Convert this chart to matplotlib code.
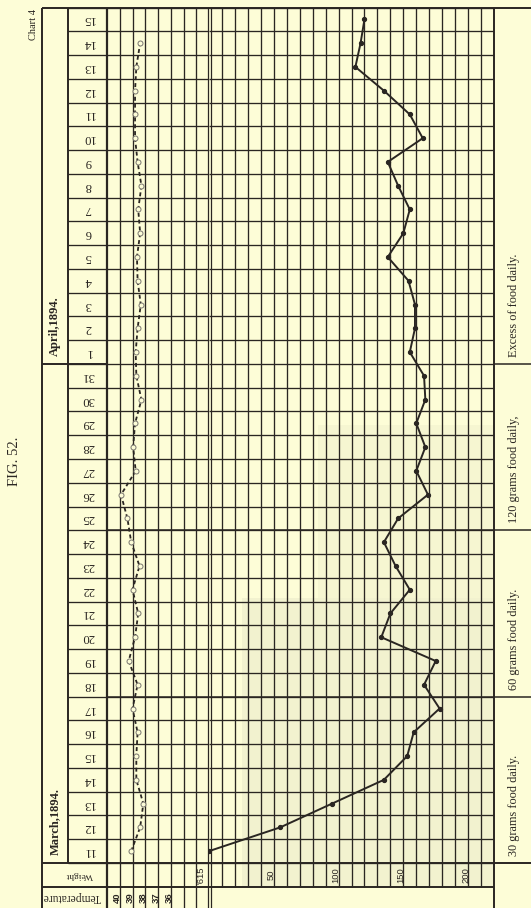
"""
Chart 4 - daily weight loss and temperature, March-April 1894
"""
import matplotlib.pyplot as plt
import numpy as np
from matplotlib.patches import Rectangle

plt.rcParams["font.family"] = ["Liberation Serif", "DejaVu Serif"]

# Days of the record: 11-31 March, then 1-15 April 1894
days = list(range(11, 32)) + list(range(1, 16))

# Loss of weight in grams, counted from the starting weight of 615 g
weight_loss = [0, 55, 95, 135, 153, 158, 178, 166, 175, 133, 140,
               155, 144, 135, 146, 169, 160, 167, 160, 167, 166,
               155, 159, 159, 154, 138, 150, 155, 146, 138, 165,
               155, 135, 113, 117, 120]

# Body temperature, deg C (no reading on 15 April)
temperature = [39.1, 38.4, 38.15, 38.7, 38.7, 38.6, 39.0, 38.6, 39.3, 38.8, 38.55,
               39.0, 38.45, 39.1, 39.4, 39.9, 38.75, 38.95, 38.8, 38.3, 38.7,
               38.75, 38.6, 38.35, 38.6, 38.65, 38.4, 38.55, 38.3, 38.6, 38.8,
               38.8, 38.8, 38.7, 38.4, np.nan]

start_weight = "'615"
weight_ticks = [50, 100, 150, 200]
temp_ticks = [40, 39, 38, 37, 36]

months = ["March,1894.", "April,1894."]
month_first_row = [0, 21]

food_labels = ["30 grams food daily.", "60 grams food daily.",
               "120 grams food daily,", "Excess of food daily."]
food_first_row = [0, 7, 14, 21]

PAPER = "#fdfdd7"
INK = "#2a2622"

# ==========================================================
# Page geometry (pixels)
# ==========================================================
W, H = 531, 908
TOP_PX = 7.5
GRID_BOTTOM_PX = 863
n_rows = len(days)
row_px = (GRID_BOTTOM_PX - TOP_PX) / n_rows
y_top = n_rows - 0.5
y_bottom = -0.5 - (H - GRID_BOTTOM_PX) / row_px

fig = plt.figure(figsize=(W / 100, H / 100), dpi=100)
fig.patch.set_facecolor(PAPER)

# background layer for the frame, in pixels
ax_bg = fig.add_axes([0, 0, 1, 1])
ax_bg.set_xlim(0, W)
ax_bg.set_ylim(H, 0)
ax_bg.axis("off")


def panel(x0, x1, xlim):
    ax = fig.add_axes([x0 / W, 0, (x1 - x0) / W, (H - TOP_PX) / H])
    ax.set_xlim(*xlim)
    ax.set_ylim(y_bottom, y_top)
    ax.axis("off")
    return ax


ax_l = panel(42, 107, (0, 1))        # month and day columns
ax_t = panel(107, 209, (41, 33))     # temperature
ax_w = panel(209, 494, (0, 220))     # weight loss
ax_r = panel(494, 531, (0, 1))       # food notes

# faint show-through from the facing page
ax_bg.add_patch(Rectangle((242, 598), 252, 288, color="#8c8c80", alpha=0.09, lw=0))
ax_bg.add_patch(Rectangle((318, 425), 176, 173, color="#8c8c80", alpha=0.06, lw=0))

# ==========================================================
# Grid
# ==========================================================
edges = np.arange(-0.5, n_rows)
grid_kw = dict(color=INK, lw=0.95)

ax_l.hlines(edges, 0.4, 1.0, **grid_kw)
ax_t.hlines(edges, 41, 33, **grid_kw)
ax_w.hlines(edges, 0, 220, **grid_kw)
ax_t.vlines(np.arange(34, 41), y_bottom, y_top, **grid_kw)
ax_w.vlines(np.arange(10, 220, 10), -1.5, y_top, **grid_kw)

# week boundaries and month change
ax_l.hlines(20.5, 0, 1, color=INK, lw=1.4)
ax_r.hlines([6.5, 13.5, 20.5], 0, 1, color=INK, lw=1.1)
for ax, x0, x1 in [(ax_t, 41, 33), (ax_w, 0, 220)]:
    ax.hlines([6.5, 13.5], x0, x1, color=INK, lw=1.1)

# outer frame
frame_kw = dict(color=INK, lw=1.4)
ax_bg.hlines(TOP_PX, 42, W, **frame_kw)
ax_bg.hlines(GRID_BOTTOM_PX, 42, W, **frame_kw)
ax_bg.hlines(886.5, 42, 494, **frame_kw)
ax_bg.vlines(42, TOP_PX, H, **frame_kw)
ax_bg.vlines(68, TOP_PX, GRID_BOTTOM_PX, **frame_kw)
ax_bg.vlines(107, TOP_PX, H, color=INK, lw=1.6)
ax_bg.vlines([207.5, 210.5], TOP_PX, H, color=INK, lw=0.9)
ax_bg.vlines(494, TOP_PX, H, **frame_kw)

# ==========================================================
# Labels
# ==========================================================
for i, d in enumerate(days):
    ax_l.text(0.71, i, str(d), rotation=180, ha="center", va="center",
              fontsize=9.2, color=INK)

for name, first in zip(months, month_first_row):
    ax_l.text(0.2, first - 0.5 + 0.35, name, rotation=90, rotation_mode="anchor",
              ha="left", va="center", fontsize=9, fontweight="bold", color=INK)

ax_l.text(0.58, -1.0, "Weight", rotation=180, ha="center", va="center",
          fontsize=6.8, color=INK)
ax_l.text(0.46, -1.95, "Temperature", rotation=180, ha="center", va="center",
          fontsize=8.3, color=INK)

for t in temp_ticks:
    ax_t.text(t + 0.15, -1.95, str(t), rotation=90, ha="center", va="center",
              fontsize=6.8, fontweight="bold", family="Liberation Sans", color=INK)

ax_w.text(-6, -1.0, start_weight, rotation=90, ha="center", va="center",
          fontsize=6.8, family="Liberation Sans", color=INK, clip_on=False)
for v in weight_ticks:
    ax_w.text(v - 2, -1.0, str(v), rotation=90, ha="center", va="center",
              fontsize=6.8, family="Liberation Sans", color=INK)

for text, first in zip(food_labels, food_first_row):
    ax_r.text(0.55, first - 0.5 + 0.3, text, rotation=90, rotation_mode="anchor",
              ha="left", va="center", fontsize=8.8, color=INK)

fig.text(33 / W, 1 - 25 / H, "Chart 4", rotation=90, ha="center", va="center",
         fontsize=7.5, color=INK)
fig.text(15 / W, 1 - 461 / H, "FIG. 52.", rotation=90, ha="center", va="center",
         fontsize=10.5, color=INK)

# ==========================================================
# Curves
# ==========================================================
rows = np.arange(n_rows)

ax_w.plot(weight_loss, rows, color=INK, lw=1.4, marker="o", ms=2.8,
          solid_joinstyle="miter", zorder=5)

ax_t.plot(temperature, rows, color=INK, lw=1.3, linestyle=(0, (2.2, 1.6)), zorder=5)
ax_t.plot(temperature, rows, linestyle="none", marker="o", ms=3.6,
          mfc=PAPER, mec="#7a7770", mew=0.7, zorder=6)

fig.savefig("out.png", dpi=100, facecolor=PAPER)
